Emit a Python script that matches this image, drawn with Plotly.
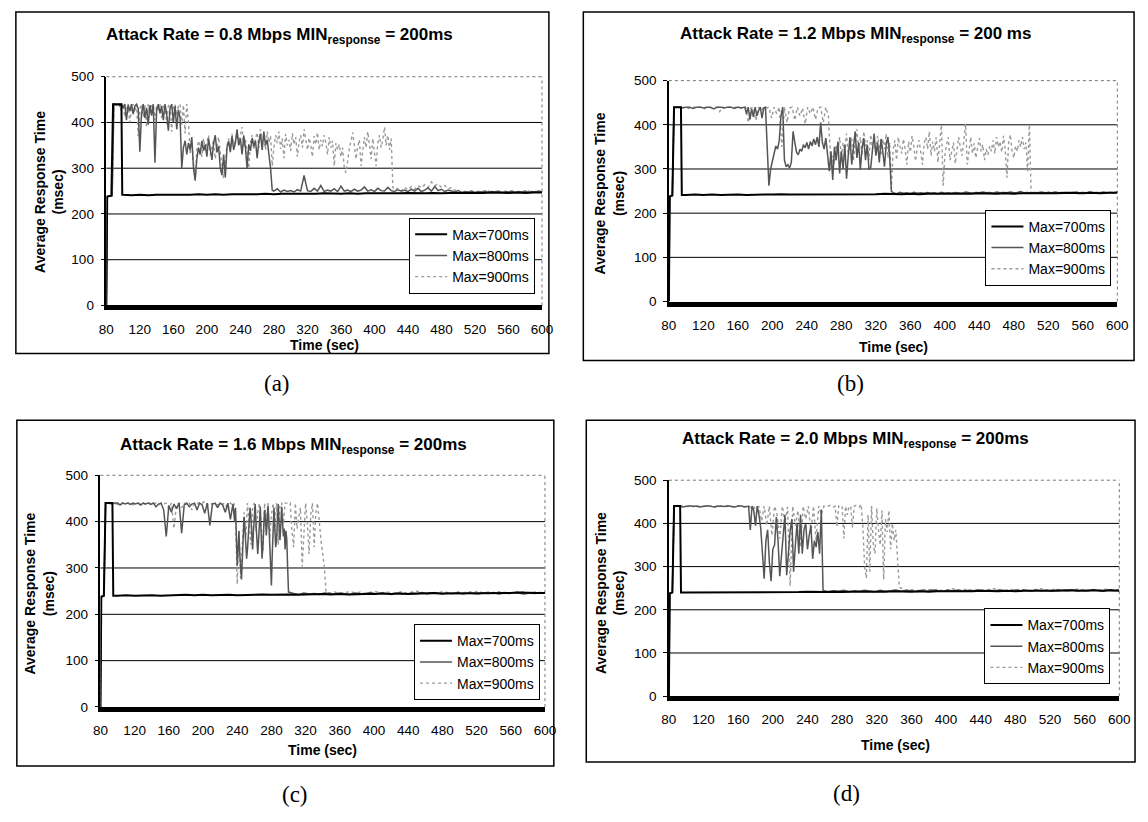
import plotly.graph_objects as go

# ---------------------------------------------------------------------------
# Data: average response time (msec) vs. time (sec) for three Max settings,
# four attack rates.
# ---------------------------------------------------------------------------
X_TICKS = list(range(80, 601, 40))
Y_TICKS = [0, 100, 200, 300, 400, 500]
GRID_VALUES = [100, 200, 300, 400]
SERIES_NAMES = ["Max=700ms", "Max=800ms", "Max=900ms"]
TITLES = [
    "Attack Rate = 0.8 Mbps MIN<sub>response</sub> = 200ms",
    "Attack Rate = 1.2 Mbps MIN<sub>response</sub> = 200 ms",
    "Attack Rate = 1.6 Mbps MIN<sub>response</sub> = 200ms",
    "Attack Rate = 2.0 Mbps MIN<sub>response</sub> = 200ms",
]
CAPTIONS = ["(a)", "(b)", "(c)", "(d)"]

# ---- (a) 0.8 Mbps ----
A_T700 = [80, 81, 86, 88, 98, 99] + list(range(100, 601, 10))
A_V700 = [0, 238, 240, 440, 440, 242,
          242, 241, 242, 241, 242, 242, 241, 242, 242, 243,
          242, 243, 242, 243, 243, 242, 243, 244, 243, 244,
          244, 243, 244, 244, 245, 244, 244, 245, 244, 245,
          245, 244, 245, 245, 246, 245, 245, 246, 245, 246,
          246, 245, 246, 246, 247, 246, 246, 247, 246, 247,
          247]

A_T800 = [80, 81, 87, 89] + list(range(90, 170, 2)) + list(range(170, 280, 2)) + list(range(280, 601, 4))
A_V800 = [0, 238, 240, 440,
          440, 438, 440, 436, 440, 432, 440, 405, 438, 425,
          440, 418, 436, 440, 430, 336, 420, 440, 410, 432,
          395, 438, 415, 440, 312, 425, 440, 420, 436, 405,
          440, 418, 382, 430, 440, 400, 436, 385, 428, 410,
          300, 345, 360, 330, 355, 340, 368, 300, 274, 320,
          345, 330, 360, 338, 352, 325, 365, 340, 318, 355,
          372, 335, 348, 300, 285, 330, 280, 345, 360, 335,
          370, 340, 355, 385, 350, 365, 330, 372, 345, 300,
          352, 338, 366, 348, 360, 322, 358, 375, 340, 380,
          350, 362, 330, 300, 252,
          250, 255, 248, 252, 249, 251, 248, 253, 250, 284,
          251, 249, 256, 250, 262, 249, 252, 250, 255, 249,
          261, 250, 252, 249, 254, 250, 252, 259, 250, 253,
          249, 256, 251, 250, 258, 251, 249, 253, 250, 252,
          249, 254, 250, 256, 249, 252, 257, 250, 260, 251,
          254, 249, 252, 250, 248, 251, 247, 249, 248, 250,
          247, 249, 248, 250, 247, 249, 248, 250, 247, 249,
          248, 250, 247, 249, 248, 250, 247, 249, 248, 250,
          248]

A_T900 = [80, 81, 87, 89] + list(range(90, 180, 2)) + list(range(180, 424, 2)) + list(range(424, 601, 4))
A_V900 = [0, 238, 240, 440,
          440, 440, 438, 440, 425, 440, 412, 436, 440, 400,
          432, 440, 422, 440, 370, 430, 440, 412, 438, 390,
          440, 420, 436, 440, 405, 438, 425, 440, 410, 438,
          440, 396, 436, 440, 380, 432, 440, 415, 438, 440,
          395, 438, 376, 440, 400,
          330, 355, 310, 272, 340, 360, 345, 325, 365, 340,
          355, 372, 330, 350, 362, 320, 348, 368, 335, 300,
          278, 315, 350, 365, 338, 375, 345, 360, 380, 352,
          370, 390, 345, 362, 335, 300, 355, 372, 340, 365,
          378, 345, 385, 358, 372, 340, 380, 356, 370, 305,
          345, 372, 355, 380, 342, 365, 322, 375, 350, 362,
          338, 376, 352, 368, 325, 358, 372, 345, 385, 360,
          340, 366, 350, 325, 370, 352, 378, 340, 362, 348,
          372, 356, 330, 368, 345, 360, 305, 355, 340, 352,
          325, 345, 300, 290, 320, 342, 360, 378, 350, 320,
          348, 362, 305, 340, 368, 345, 380, 352, 320, 365,
          340, 305, 355, 372, 345, 362, 390, 350, 372, 340,
          365, 258,
          252, 256, 250, 258, 253, 260, 254, 262, 257, 264,
          258, 270, 262, 266, 258, 262, 255, 258, 252, 250,
          247, 249, 246, 248, 247, 249, 246, 248, 250, 247,
          249, 246, 248, 250, 247, 249, 247, 249, 246, 248,
          250, 247, 249, 248, 250]

# ---- (b) 1.2 Mbps ----
B_T700 = [80, 81, 84, 86, 94, 95] + list(range(100, 601, 10))
B_V700 = [0, 238, 240, 440, 440, 241,
          241, 242, 241, 242, 241, 242, 242, 241, 242, 242,
          242, 243, 242, 242, 243, 242, 243, 242, 243, 243,
          243, 242, 243, 244, 243, 243, 244, 243, 244, 244,
          244, 243, 244, 244, 245, 244, 244, 245, 244, 245,
          245, 244, 245, 245, 246, 245, 245, 246, 245, 246,
          246]

B_T800 = [80, 81, 84, 86] + list(range(88, 170, 4)) + list(range(170, 340, 2)) + list(range(340, 601, 4))
B_V800 = [0, 238, 240, 440,
          440, 440, 438, 440, 440, 437, 440, 440, 438, 440,
          440, 436, 440, 440, 438, 440, 440, 437, 440, 438, 440,
          425, 440, 412, 436, 418, 440, 420, 432, 440, 415,
          438, 440, 330, 262, 300, 320, 340, 352, 345, 365,
          420, 440, 320, 305, 310, 302, 315, 385, 360, 338,
          332, 345, 340, 355, 348, 360, 345, 362, 352, 368,
          355, 372, 350, 405, 360, 345, 370, 330, 295, 340,
          275, 350, 320, 362, 290, 340, 300, 355, 278, 330,
          372, 310, 345, 385, 325, 360, 298, 348, 370, 320,
          355, 300, 302, 345, 380, 330, 360, 315, 368, 340,
          305, 355, 372, 330, 250,
          246, 244, 247, 245, 246, 244, 247, 245, 246, 245,
          247, 245, 246, 244, 247, 245, 246, 245, 247, 246,
          245, 248, 246, 245, 247, 246, 248, 246, 247, 245,
          248, 246, 247, 246, 248, 246, 247, 249, 246, 247,
          245, 247, 246, 248, 246, 247, 246, 248, 246, 247,
          245, 247, 246, 248, 246, 247, 246, 248, 246, 247,
          246, 248, 246, 247, 246, 248]

B_T900 = [80, 81, 84, 86] + list(range(88, 268, 3)) + list(range(268, 502, 2)) + list(range(504, 601, 4))
B_V900 = [0, 238, 240, 440,
          440, 440, 438, 440, 440, 437, 440, 440, 438, 440,
          440, 436, 440, 440, 438, 440, 440, 430, 440, 438,
          440, 440, 437, 440, 440, 438, 440, 440, 405, 438,
          440, 410, 440, 432, 440, 438, 440, 415, 440, 425,
          440, 350, 440, 405, 438, 440, 410, 440, 420, 438,
          402, 440, 425, 440, 412, 438, 440, 405, 440, 420,
          300, 330, 312, 355, 338, 372, 325, 360, 345, 380,
          330, 352, 370, 318, 362, 390, 345, 372, 330, 385,
          352, 365, 320, 378, 345, 362, 335, 375, 350, 330,
          368, 345, 380, 325, 360, 255, 342, 365, 320, 372,
          350, 335, 368, 345, 310, 362, 338, 375, 352, 318,
          348, 365, 340, 310, 358, 372, 345, 385, 330, 362,
          340, 372, 315, 350, 400, 262, 330, 355, 372, 320,
          345, 360, 312, 338, 372, 350, 330, 365, 402, 310,
          345, 372, 335, 358, 325, 348, 370, 340, 355, 320,
          345, 332, 352, 340, 365, 335, 372, 350, 362, 338,
          375, 345, 280, 360, 378, 340, 325, 352, 340, 365,
          350, 372, 345, 360, 295, 400, 248,
          245, 247, 244, 246, 248, 245, 247, 246, 244, 247,
          245, 248, 246, 244, 247, 245, 248, 246, 245, 247,
          244, 246, 248, 245, 247]

# ---- (c) 1.6 Mbps ----
C_T700 = [80, 81, 84, 86, 94, 95] + list(range(100, 601, 10))
C_V700 = [0, 238, 240, 440, 440, 240,
          240, 241, 240, 241, 241, 240, 241, 241, 242, 241,
          242, 241, 242, 242, 241, 242, 242, 243, 242, 243,
          243, 242, 243, 243, 244, 243, 244, 243, 244, 244,
          244, 245, 244, 245, 244, 245, 245, 246, 245, 245,
          246, 245, 246, 246, 245, 246, 246, 247, 246, 246,
          246]

C_T800 = [80, 81, 84, 86] + list(range(88, 236, 3)) + list(range(236, 301)) + list(range(306, 601, 6))
C_V800 = [0, 238, 240, 440,
          440, 440, 438, 440, 440, 436, 440, 438, 440, 437,
          440, 438, 440, 436, 440, 438, 440, 437, 440, 432,
          438, 440, 425, 368, 435, 420, 438, 428, 440, 375,
          436, 440, 432, 438, 440, 425, 440, 436, 418, 440,
          392, 438, 440, 430, 440, 436, 420, 440, 405, 438,
          420, 400, 430, 360, 305, 340, 380, 330, 290, 275,
          320, 370, 410, 385, 345, 320, 340, 372, 400, 430,
          410, 365, 340, 380, 420, 438, 395, 350, 330, 360,
          400, 432, 375, 320, 345, 390, 425, 410, 370, 395,
          435, 400, 340, 290, 262, 330, 395, 430, 385, 345,
          360, 405, 438, 395, 360, 390, 432, 400, 368, 385,
          340, 380, 360, 300, 248,
          245, 243, 246, 244, 245, 243, 246, 245, 244, 246,
          245, 243, 246, 244, 245, 247, 244, 246, 245, 243,
          246, 245, 244, 246, 245, 247, 244, 246, 245, 244,
          246, 245, 247, 244, 246, 245, 244, 246, 245, 247,
          244, 246, 245, 247, 246, 244, 246, 245, 247, 246]

C_T900 = [80, 81, 84, 86] + list(range(88, 236, 3)) + list(range(236, 346, 2)) + list(range(348, 601, 6))
C_V900 = [0, 238, 240, 440,
          440, 438, 440, 440, 437, 440, 440, 438, 440, 440,
          436, 440, 440, 438, 440, 436, 440, 440, 438, 440,
          436, 440, 438, 440, 428, 440, 385, 438, 440, 430,
          440, 436, 440, 425, 440, 438, 442, 440, 444, 436,
          440, 438, 440, 436, 440, 438, 440, 425, 440, 436,
          440, 410, 265, 380, 278, 350, 420, 365, 440, 395,
          350, 430, 440, 380, 420, 440, 390, 335, 440, 400,
          440, 365, 415, 440, 380, 440, 350, 438, 440, 395,
          440, 440, 438, 440, 380, 345, 440, 385, 410, 430,
          303, 370, 440, 400, 330, 415, 440, 345, 420, 440,
          395, 360, 330, 300, 247,
          246, 248, 245, 247, 249, 246, 248, 245, 247, 249,
          246, 248, 247, 245, 249, 246, 248, 250, 247, 245,
          248, 246, 249, 247, 245, 248, 246, 249, 247, 250,
          246, 248, 245, 249, 247, 246, 248, 250, 247, 245,
          248, 246, 247]

# ---- (d) 2.0 Mbps ----
D_T700 = [80, 81, 84, 86, 93, 94] + list(range(100, 601, 10))
D_V700 = [0, 238, 240, 440, 440, 240,
          240, 240, 241, 240, 240, 241, 240, 241, 241, 240,
          241, 241, 240, 241, 242, 241, 241, 242, 241, 242,
          242, 241, 242, 242, 243, 242, 242, 243, 242, 243,
          243, 242, 243, 243, 244, 243, 243, 244, 243, 244,
          244, 243, 244, 244, 245, 244, 244, 245, 244, 245,
          244]

D_T800 = [80, 81, 84, 86] + list(range(88, 172, 4)) + list(range(172, 260, 2)) + list(range(264, 601, 6))
D_V800 = [0, 238, 240, 440,
          440, 440, 438, 440, 441, 439, 440, 438, 440, 441,
          440, 438, 440, 440, 439, 441, 440, 438, 440, 440, 438,
          440, 385, 440, 430, 395, 440, 420, 390, 330, 272,
          360, 385, 310, 266, 340, 350, 415, 360, 278, 330,
          364, 420, 280, 340, 383, 410, 288, 350, 400, 330,
          420, 330, 385, 400, 340, 372, 395, 318, 360, 345,
          380, 330, 432, 245,
          242, 244, 243, 245, 242, 244, 243, 245, 244, 242,
          245, 243, 244, 246, 243, 245, 244, 242, 245, 243,
          246, 244, 243, 245, 244, 246, 243, 245, 244, 246,
          243, 245, 244, 246, 245, 243, 246, 244, 245, 243,
          246, 244, 245, 243, 246, 245, 244, 246, 243, 245,
          244, 246, 245, 243, 246, 244, 245]

D_T900 = [80, 81, 84, 86] + list(range(88, 263, 3)) + list(range(264, 348, 2)) + list(range(354, 601, 6))
D_V900 = [0, 238, 240, 440,
          440, 438, 440, 441, 440, 438, 440, 440, 437, 440,
          441, 440, 438, 440, 440, 437, 440, 441, 440, 438,
          440, 440, 438, 440, 441, 440, 438, 440, 440, 436,
          440, 425, 440, 405, 440, 395, 440, 372, 440, 420,
          365, 440, 400, 438, 255, 440, 395, 430, 345, 440,
          410, 440, 380, 440, 360, 440, 420, 440, 438,
          440, 442, 440, 438, 440, 392, 440, 438, 440, 365,
          440, 420, 440, 438, 390, 440, 442, 440, 438, 444,
          390, 300, 273, 420, 288, 440, 350, 330, 435, 385,
          350, 430, 270, 410, 380, 430, 340, 400, 360, 385,
          330, 252,
          245, 247, 244, 246, 248, 245, 247, 244, 246, 249,
          245, 247, 246, 244, 248, 245, 247, 249, 246, 244,
          247, 245, 248, 246, 244, 247, 249, 245, 246, 248,
          244, 247, 245, 248, 246, 244, 247, 245, 248, 246,
          245, 247]

PANELS = [
    [(A_T700, A_V700), (A_T800, A_V800), (A_T900, A_V900)],
    [(B_T700, B_V700), (B_T800, B_V800), (B_T900, B_V900)],
    [(C_T700, C_V700), (C_T800, C_V800), (C_T900, C_V900)],
    [(D_T700, D_V700), (D_T800, D_V800), (D_T900, D_V900)],
]

for p, panel in enumerate(PANELS):
    for s, (t, v) in enumerate(panel):
        if len(t) != len(v):
            raise ValueError(f"panel {p} series {s}: {len(t)} times vs {len(v)} values")

# ---------------------------------------------------------------------------
# Page geometry (pixels on a 1148 x 822 page)
# ---------------------------------------------------------------------------
W, H = 1148, 822
FONT = "Liberation Sans, Arial, Helvetica, sans-serif"
SERIF = "Liberation Serif, Times New Roman, serif"

# plot area: left, right, top(500), bottom(0)
PLOT_BOX = [(100, 543, 71, 304), (672, 1128, 75, 300), (94, 546, 477, 713), (672, 1130, 482, 702)]
# outer frame: left, right, top, bottom
FRAME = [(8, 550, 5, 353), (585, 1145, 5, 360), (9, 555, 421, 773), (588, 1146, 421, 769)]
TITLE_POS = [(276, 30), (862, 29), (290, 447), (862, 441)]
YTITLE_POS = [(41, 188), (611, 190), (32, 597), (612, 597)]
XTITLE_POS = [(322, 344), (900, 346), (320, 757), (902, 752)]
CAPTION_POS = [(274, 383), (857, 383), (292, 802), (853, 801)]
LEGEND_POS = [(536, 292), (1122, 284), (541, 706), (1121, 690)]  # right, bottom

LINE_STYLES = [
    dict(color="#000000", width=2),
    dict(color="#555555", width=1.5),
    dict(color="#9a9a9a", width=1.4, dash="dot"),
]


def px(x):
    return x / W


def py(y):
    return 1 - y / H


def label(text, x, y, font, angle=0):
    return dict(text=text, x=px(x), y=py(y), xref="paper", yref="paper",
                xanchor="center", yanchor="middle", showarrow=False,
                textangle=angle, font=font)


fig = go.Figure()
shapes = []
annotations = []
layout = {}

for i, panel in enumerate(PANELS):
    sfx = "" if i == 0 else str(i + 1)
    xa, ya = "x" + sfx, "y" + sfx
    leg = "legend" + sfx
    left, right, top, bottom = PLOT_BOX[i]

    # traces: lighter series drawn first so the black line stays on top
    for s in (2, 1, 0):
        t, v = panel[s]
        fig.add_trace(go.Scatter(
            x=t, y=v, mode="lines", name=SERIES_NAMES[s],
            line=LINE_STYLES[s], xaxis=xa, yaxis=ya, legend=leg,
            legendrank=s + 1, hoverinfo="skip",
        ))

    layout["xaxis" + sfx] = dict(
        domain=[px(left), px(right)], anchor=ya, range=[80, 600],
        tickmode="array", tickvals=X_TICKS, showgrid=False, zeroline=False,
        showline=True, linecolor="black", linewidth=5, ticks="",
        ticklabelstandoff=7,
        tickfont=dict(family=FONT, size=13.5, color="black"), fixedrange=True,
    )
    layout["yaxis" + sfx] = dict(
        domain=[py(bottom), py(top)], anchor=xa, range=[0, 500],
        tickmode="array", tickvals=Y_TICKS, showgrid=False, zeroline=False,
        showline=True, linecolor="black", linewidth=1.5, ticks="outside",
        ticklen=4, tickcolor="black", ticklabelstandoff=4,
        tickfont=dict(family=FONT, size=13.5, color="black"), fixedrange=True,
    )
    lx, lyb = LEGEND_POS[i]
    layout[leg] = dict(
        x=px(lx), y=py(lyb), xanchor="right", yanchor="bottom",
        xref="paper", yref="paper", bgcolor="white", bordercolor="black",
        borderwidth=1, font=dict(family=FONT, size=14, color="black"),
        itemwidth=32, tracegroupgap=0, traceorder="normal",
    )

    # horizontal gridlines
    for g in GRID_VALUES:
        shapes.append(dict(type="line", xref=xa + " domain", yref=ya,
                           x0=0, x1=1, y0=g, y1=g,
                           line=dict(color="black", width=1), layer="below"))
    # dotted top / right border of the plot area
    shapes.append(dict(type="line", xref=xa + " domain", yref=ya + " domain",
                       x0=0, x1=1, y0=1, y1=1,
                       line=dict(color="#777777", width=1, dash="dot"), layer="below"))
    shapes.append(dict(type="line", xref=xa + " domain", yref=ya + " domain",
                       x0=1, x1=1, y0=0, y1=1,
                       line=dict(color="#777777", width=1, dash="dot"), layer="below"))
    # outer frame of the panel
    fl, fr, ft, fb = FRAME[i]
    shapes.append(dict(type="rect", xref="paper", yref="paper",
                       x0=px(fl), x1=px(fr), y0=py(fb), y1=py(ft),
                       line=dict(color="black", width=1.5), layer="below"))

    tx, ty = TITLE_POS[i]
    annotations.append(label("<b>" + TITLES[i] + "</b>", tx, ty,
                             dict(family=FONT, size=17, color="black")))
    yx, yy = YTITLE_POS[i]
    annotations.append(label("<b>Average Response Time<br>(msec)</b>", yx, yy,
                             dict(family=FONT, size=14, color="black"), angle=-90))
    xx, xy = XTITLE_POS[i]
    annotations.append(label("<b>Time (sec)</b>", xx, xy,
                             dict(family=FONT, size=14, color="black")))
    cx, cy = CAPTION_POS[i]
    annotations.append(label(CAPTIONS[i], cx, cy,
                             dict(family=SERIF, size=23, color="black")))

fig.update_layout(
    width=W, height=H, margin=dict(l=0, r=0, t=0, b=0),
    paper_bgcolor="white", plot_bgcolor="white",
    showlegend=True, shapes=shapes, annotations=annotations,
    font=dict(family=FONT, color="black"),
    **layout,
)

fig.write_html("out.html", config={"displayModeBar": False})
